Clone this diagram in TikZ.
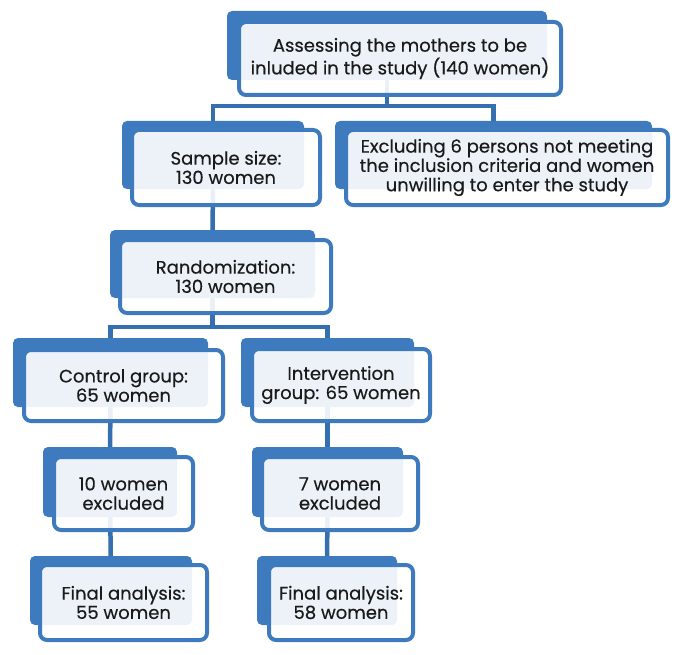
\documentclass[tikz,border=0pt]{standalone}
\usepackage{fontspec}
\setmainfont{Poppins}[UprightFeatures={FakeBold=0.35}]
\usetikzlibrary{backgrounds}
\definecolor{bblue}{HTML}{3E7BBE}
\definecolor{cblue}{HTML}{3470B0}
\definecolor{txt}{HTML}{1A1A1A}
\tikzset{
 back/.style={fill=bblue, rounded corners=5pt, inner sep=0pt, outer sep=0pt},
 front/.style={draw=bblue, line width=4pt, fill=white, fill opacity=0.9, text opacity=1,
   rounded corners=7pt, inner sep=0pt, outer sep=0pt, align=center,
   font=\fontsize{18}{19.3}\selectfont, text=txt},
 conn/.style={draw=cblue, line width=4.5pt},
}
\begin{document}
\begin{tikzpicture}[x=1pt,y=-1pt]
\useasboundingbox (0,0) rectangle (682,655);
% back rectangles
\node[back, minimum width=320pt, minimum height=69pt] (b1) at (387,45.5) {};
\node[back, minimum width=182pt, minimum height=68pt] (b2) at (213,155) {};
\node[back, minimum width=317pt, minimum height=68pt] (b3) at (493.5,155) {};
\node[back, minimum width=205pt, minimum height=68pt] (b4) at (212.5,264) {};
\node[back, minimum width=195pt, minimum height=69pt] (b5) at (110.5,372.5) {};
\node[back, minimum width=173pt, minimum height=69pt] (b6) at (327.5,372.5) {};
\node[back, minimum width=134pt, minimum height=70pt] (b7) at (110,482) {};
\node[back, minimum width=151pt, minimum height=70pt] (b8) at (327.5,482) {};
\node[back, minimum width=162pt, minimum height=69pt] (b9) at (111,590.5) {};
\node[back, minimum width=140pt, minimum height=69pt] (b10) at (327,590.5) {};
% front boxes
\node[front, minimum width=322pt, minimum height=73pt] (f1) at (400,58.5) {Assessing the mothers to be\\inluded in the study (140 women)};
\node[front, minimum width=188pt, minimum height=75pt] (f2) at (226,167.5) {Sample size:\\130 women};
\node[front, minimum width=322pt, minimum height=75pt] (f3) at (507,167.5) {Excluding 6 persons not meeting\\the inclusion criteria and women\\unwilling to enter the study};
\node[front, minimum width=211pt, minimum height=73pt] (f4) at (225.5,276.5) {Randomization:\\130 women};
\node[front, minimum width=199pt, minimum height=71pt] (f5) at (123.5,385.5) {Control group:\\65 women};
\node[front, minimum width=178pt, minimum height=72pt] (f6) at (341,385) {Intervention\\group: 65 women};
\node[front, minimum width=139pt, minimum height=73pt] (f7) at (123.5,493.5) {10 women\\excluded};
\node[front, minimum width=156pt, minimum height=73pt] (f8) at (340,493.5) {7 women\\excluded};
\node[front, minimum width=167pt, minimum height=75pt] (f9) at (123.5,602.5) {Final analysis:\\55 women};
\node[front, minimum width=144pt, minimum height=75pt] (f10) at (341,602.5) {Final analysis:\\58 women};
\coordinate (j1) at (387,106);
\coordinate (j2) at (212.5,327);
% connectors
\begin{pgfonlayer}{background}
\draw[conn] (b1.center) -- (j1);
\draw[conn] (b2.center) |- (j1) -| (b3.center);
\draw[conn] (b2.center) -- (b4.center);
\draw[conn] (b4.center) -- (j2);
\draw[conn] (b5.center) |- (j2) -| (b6.center);
\draw[conn] (b5.center) -- (b7.center);
\draw[conn] (b7.center) -- (b9.center);
\draw[conn] (b6.center) -- (b8.center);
\draw[conn] (b8.center) -- (b10.center);
\end{pgfonlayer}
\end{tikzpicture}
\end{document}
